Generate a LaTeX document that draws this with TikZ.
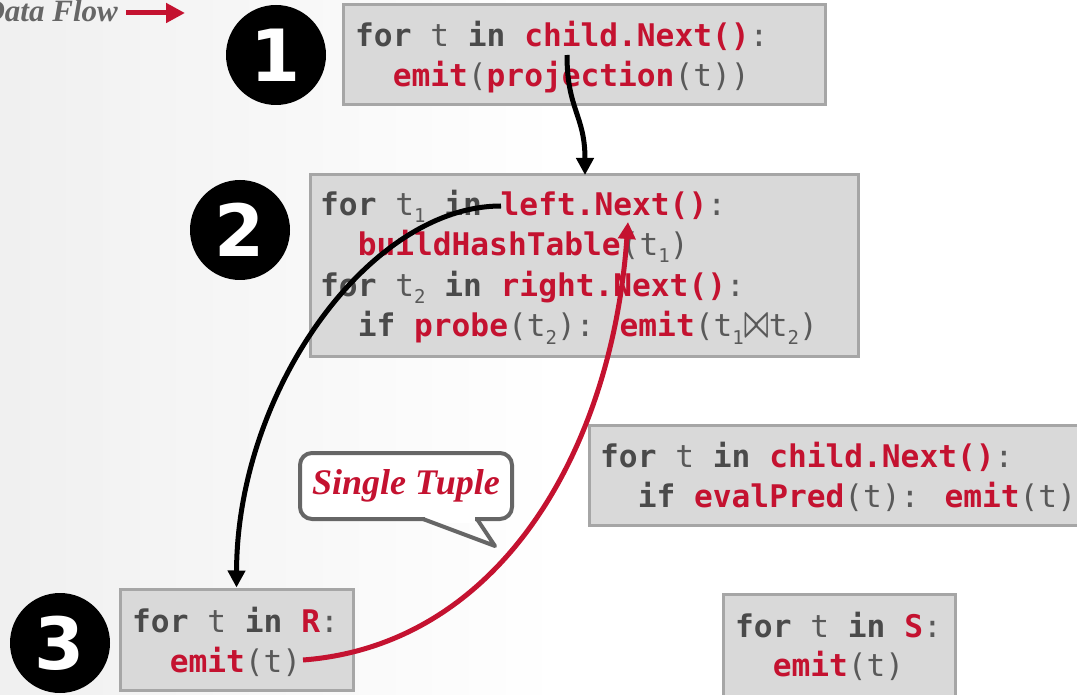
\documentclass[tikz,border=0pt]{standalone}
\usepackage{fontspec}
\usetikzlibrary{arrows.meta}
\newfontfamily\codefont{DejaVu Sans Mono}
\newfontfamily\numfont{DejaVu Sans}
\newfontfamily\titlefont{Liberation Serif}
\definecolor{cmured}{HTML}{C41230}
\definecolor{codegray}{HTML}{595959}
\definecolor{kwgray}{HTML}{4A4A4A}
\definecolor{boxfill}{HTML}{D9D9D9}
\definecolor{boxline}{HTML}{A6A6A6}
\definecolor{bubline}{HTML}{666666}
\definecolor{flowgray}{HTML}{666666}
\newcommand\mykw[1]{{\bfseries\color{kwgray}#1}}
\newcommand\myfn[1]{{\bfseries\color{cmured}#1}}
\newcommand\mysub[1]{\raisebox{-7pt}{\fontsize{19}{19}\selectfont #1}}
\newcommand\myjoin{\resizebox{25pt}{21pt}{\boldmath$\bowtie$}}
\tikzset{
  codebox/.style={rectangle, draw=boxline, fill=boxfill, line width=3pt, inner sep=0pt},
  codeline/.style={anchor=base west, inner sep=0pt, text=codegray, font=\codefont\fontsize{31.2}{40}\selectfont},
  badge/.style={circle, fill=black, inner sep=0pt, minimum size=100pt, text=white, font=\numfont\bfseries\fontsize{72}{72}\selectfont},
  flowblk/.style={line width=5pt, draw=black, -{Triangle[length=17pt,width=17pt]}},
  flowred/.style={line width=5pt, draw=cmured, -{Triangle[length=17pt,width=17pt]}},
  bubble/.style={rectangle, rounded corners=12pt, draw=bubline, line width=4pt, fill=white, inner sep=0pt, text=cmured, font=\titlefont\bfseries\itshape\fontsize{36}{36}\selectfont},
}
\begin{document}
\begin{tikzpicture}[x=1pt,y=-1pt]
\useasboundingbox (0,0) rectangle (1077,695);
\shade[left color=black!6, right color=white] (0,0) rectangle (560,695);

% legend
\node[anchor=base east, inner sep=0pt, text=flowgray, font=\titlefont\bfseries\itshape\fontsize{31}{31}\selectfont] (df) at (118,22) {Data Flow};
\coordinate (dfa) at (126,13);
\coordinate (dfb) at (185,13);
\draw[line width=5pt, draw=cmured, -{Triangle[length=19pt,width=19pt]}] (dfa) -- (dfb);

% badges
\node[badge] (c1) at (276,55) {1};
\node[badge] (c2) at (240,230) {2};
\node[badge] (c3) at (60,643) {3};

% boxes
\node[codebox, minimum width=482pt, minimum height=100pt] (box1) at (584,55) {};
\node[codebox, minimum width=548pt, minimum height=181pt] (box2) at (584,265.5) {};
\node[codebox, minimum width=493pt, minimum height=100pt] (box3) at (835.5,475) {};
\node[codebox, minimum width=233pt, minimum height=101pt] (box4) at (236.5,639.5) {};
\node[codebox, minimum width=232pt, minimum height=106pt] (box5) at (839,647) {};

% box 1 text
\node[codeline] (l11) at (355,47) {\mykw{for} t \mykw{in} \myfn{child.Next()}:};
\node[codeline] (l12) at (355,87) {~~\myfn{emit}(\myfn{projection}(t))};

% box 2 text
\node[codeline] (l21) at (320,216) {\mykw{for} t\mysub{1} \mykw{in} \myfn{left.Next()}:};
\node[codeline] (l22) at (320,256) {~~\myfn{buildHashTable}(t\mysub{1})};
\node[codeline] (l23) at (320,297) {\mykw{for} t\mysub{2} \mykw{in} \myfn{right.Next()}:};
\node[codeline] (l24) at (320,337) {~~\mykw{if} \myfn{probe}(t\mysub{2}): \myfn{emit}(t\mysub{1}\myjoin t\mysub{2})};

% box 3 text
\node[codeline] (l31) at (600,467) {\mykw{for} t \mykw{in} \myfn{child.Next()}:};
\node[codeline] (l32) at (600,507) {~~\mykw{if} \myfn{evalPred}(t): \myfn{emit}(t)};

% box 4 text
\node[codeline] (l41) at (132,632) {\mykw{for} t \mykw{in} \myfn{R}:};
\node[codeline] (l42) at (132,672) {~~\myfn{emit}(t)};

% box 5 text
\node[codeline] (l51) at (735,637) {\mykw{for} t \mykw{in} \myfn{S}:};
\node[codeline] (l52) at (735,676) {~~\myfn{emit}(t)};

% speech bubble
\node[bubble, minimum width=212pt, minimum height=66pt] (bub) at (406,486) {Single Tuple};
\fill[white] (425,515) rectangle (475,523);
\draw[draw=bubline, line width=4pt, line join=round] (423,519) -- (495,546) -- (477,519);

% connectors
\coordinate (a1s) at (567,55);
\coordinate (a1e) at (585,175);
\draw[flowblk] (a1s) .. controls (567,110) and (585,115) .. (a1e);

\coordinate (a2s) at (501,206);
\draw[flowblk] (a2s) .. controls (370,206) and (237,390) .. (box4.north);

\coordinate (a3s) at (303,660);
\coordinate (a3e) at (628,222);
\draw[flowred] (a3s) .. controls (500,645) and (612,450) .. (a3e);
\end{tikzpicture}
\end{document}
